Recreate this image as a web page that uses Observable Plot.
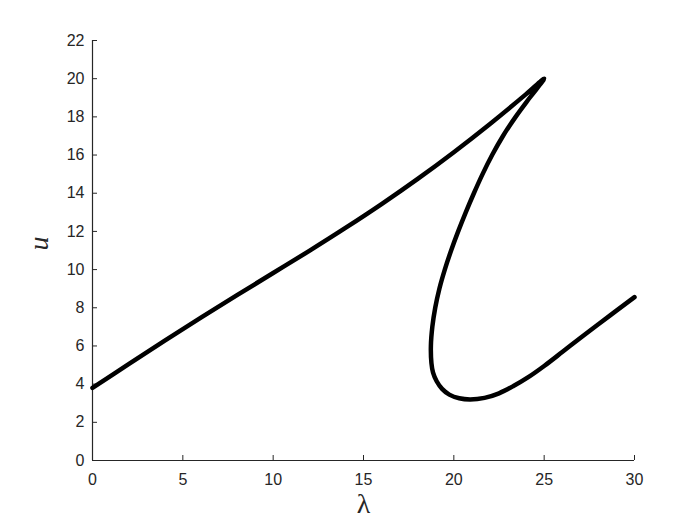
<!DOCTYPE html>
<html>
<head>
<meta charset="utf-8">
<script src="https://cdn.jsdelivr.net/npm/d3@7"></script>
<script src="https://cdn.jsdelivr.net/npm/@observablehq/plot@0.6"></script>
<style>
  html, body { margin: 0; padding: 0; background: #fff; }
</style>
</head>
<body>
<div id="chart"></div>
<script>
// Curve traced in order along the branch: lambda (x) and u (y)
const lambda = [0, 2, 4, 6, 8, 10, 12, 14, 16, 18, 20, 22, 24, 25,
  24.2, 23.42, 22.72, 22.12, 21.59, 21.11, 20.66, 20.24, 19.85, 19.5, 19.2, 18.97, 18.81, 18.73, 18.76,
  18.85, 19.05, 19.35, 19.75, 20.3, 20.9, 21.7, 22.5, 23.3, 24.1, 25, 26, 27, 28, 29, 30];
const u = [3.8, 5.05, 6.28, 7.48, 8.66, 9.82, 10.98, 12.18, 13.43, 14.75, 16.15, 17.63, 19.19, 20.0,
  19, 18, 17, 16, 15, 14, 13, 12, 11, 10, 9, 8, 7, 6, 5.1,
  4.6, 4.15, 3.75, 3.45, 3.26, 3.2, 3.28, 3.52, 3.9, 4.35, 4.95, 5.68, 6.42, 7.14, 7.85, 8.56];
const xTicks = [0, 5, 10, 15, 20, 25, 30];
const yTicks = [0, 2, 4, 6, 8, 10, 12, 14, 16, 18, 20, 22];
const xLabel = "λ";
const yLabel = "u";

const data = lambda.map((x, i) => ({x, y: u[i]}));
const axisColor = "#262626";

const W = 700, H = 525;
const mL = 92, mR = 66, mT = 40, mB = 65;
const plotW = W - mL - mR, plotH = H - mT - mB;

const chart = Plot.plot({
  width: W,
  height: H,
  marginLeft: mL,
  marginRight: mR,
  marginTop: mT,
  marginBottom: mB,
  style: {fontFamily: "'Liberation Sans', Arial, sans-serif", fontSize: "16px", color: axisColor, background: "#fff"},
  x: {domain: [0, 30]},
  y: {domain: [0, 22]},
  marks: [
    Plot.axisX({ticks: xTicks, tickSize: 0, tickPadding: 13, label: null, fontSize: 16, fill: axisColor}),
    Plot.axisY({ticks: yTicks, tickSize: 0, tickPadding: 8, label: null, fontSize: 16, fill: axisColor}),
    Plot.tickX(xTicks, {x: d => d, stroke: axisColor, strokeWidth: 1, insetTop: plotH - 5}),
    Plot.tickY(yTicks, {y: d => d, stroke: axisColor, strokeWidth: 1, insetRight: plotW - 5}),
    Plot.ruleY([0], {stroke: axisColor, strokeWidth: 1.2}),
    Plot.ruleX([0], {stroke: axisColor, strokeWidth: 1.2}),
    Plot.line(data, {x: "x", y: "y", stroke: "black", strokeWidth: 4.5, curve: "catmull-rom", strokeLinejoin: "round"}),
    Plot.text([xLabel], {frameAnchor: "bottom", dy: 44, text: d => d, fontSize: 28, fontFamily: "'Liberation Serif', 'DejaVu Serif', serif", fill: axisColor, lineAnchor: "middle"}),
    Plot.text([yLabel], {frameAnchor: "left", dx: -53, rotate: -90, text: d => d, fontSize: 28, fontStyle: "italic", fontFamily: "'Liberation Serif', 'DejaVu Serif', serif", fill: axisColor, lineAnchor: "middle"})
  ]
});
document.getElementById("chart").appendChild(chart);
</script>
</body>
</html>
